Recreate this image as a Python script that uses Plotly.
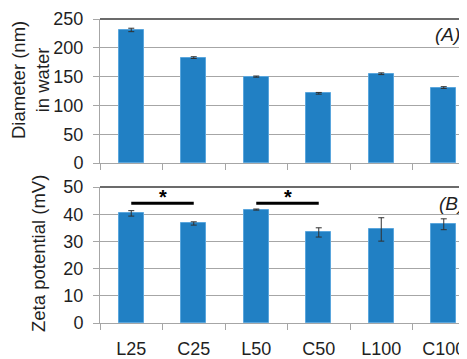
import plotly.graph_objects as go

categories = ["L25", "C25", "L50", "C50", "L100", "C100"]
diameter = [231, 183, 150, 121, 155, 131]
diameter_err = [3, 1.5, 1, 1.5, 1.5, 1.5]
zeta = [40.3, 36.6, 41.7, 33.3, 34.4, 36.3]
zeta_err = [1.0, 0.6, 0.2, 1.7, 4.3, 2.0]
y1_ticks = [0, 50, 100, 150, 200, 250]
y2_ticks = [0, 10, 20, 30, 40, 50]
sig_pairs = [("L25", "C25"), ("L50", "C50")]
sig_level = 44.0

W, H = 467, 359
OFF = 8  # page body margin offset
L = 100 - OFF
PW = W - L
BAR = "#2180c4"
EDGE = "#5aa6dd"
GRID = "#a6a6a6"
TXT = "#1f1f1f"
FONT = "Liberation Sans, Arial, sans-serif"


def px(sx):
    return (sx - OFF - L) / PW


def py(sy):
    return (H - (sy - OFF)) / H


fig = go.Figure()
fig.add_trace(go.Bar(x=categories, y=diameter, width=0.4,
                     marker=dict(color=BAR, line=dict(color=EDGE, width=1)),
                     error_y=dict(type="data", array=diameter_err, visible=True,
                                  color="#303030", thickness=1, width=3),
                     xaxis="x", yaxis="y", showlegend=False))
fig.add_trace(go.Bar(x=categories, y=zeta, width=0.4,
                     marker=dict(color=BAR, line=dict(color=EDGE, width=1)),
                     error_y=dict(type="data", array=zeta_err, visible=True,
                                  color="#303030", thickness=1, width=3),
                     xaxis="x2", yaxis="y2", showlegend=False))

xr = [-0.5, 5.5]
common_x = dict(type="category", range=xr, tickson="boundaries", ticks="outside",
                ticklen=6, tickcolor=GRID, showline=True, linecolor=GRID, linewidth=1,
                showgrid=False, automargin=False, ticklabelstandoff=9,
                tickfont=dict(size=18, color=TXT, family=FONT))
common_y = dict(ticks="outside", ticklen=6, tickcolor=GRID, showline=True,
                linecolor=GRID, linewidth=1, showgrid=True, gridcolor=GRID,
                gridwidth=1, zeroline=False, automargin=False, ticklabelstandoff=6,
                tickfont=dict(size=18, color=TXT, family=FONT))

fig.update_layout(
    template="none",
    width=W, height=H, margin=dict(l=L, r=0, t=0, b=0, pad=0),
    paper_bgcolor="white", plot_bgcolor="white", bargap=0,
    font=dict(family=FONT, color=TXT),
    xaxis=dict(**common_x, domain=[0, 1], anchor="y", showticklabels=False),
    yaxis=dict(**common_y, domain=[py(163), py(19)], range=[0, 250],
               tickvals=y1_ticks, anchor="x"),
    xaxis2=dict(**common_x, domain=[0, 1], anchor="y2"),
    yaxis2=dict(**common_y, domain=[py(323), py(187)], range=[0, 50],
                tickvals=y2_ticks, anchor="x2"),
)

# top borders
for xref, yref in [("x domain", "y domain"), ("x2 domain", "y2 domain")]:
    fig.add_shape(type="line", xref=xref, yref=yref, x0=0, x1=1, y0=1, y1=1,
                  line=dict(color="#6b6b6b", width=2))

# significance bars
for a, b in sig_pairs:
    ia, ib = categories.index(a), categories.index(b)
    fig.add_shape(type="line", xref="x2", yref="y2", x0=ia, x1=ib,
                  y0=sig_level, y1=sig_level, line=dict(color="black", width=3))
    fig.add_annotation(xref="x2", yref="y2", x=(ia + ib) / 2, y=sig_level,
                       text="<b>*</b>", showarrow=False, yanchor="bottom", yshift=-7,
                       font=dict(size=20, color="black", family=FONT))

# panel labels
fig.add_annotation(xref="paper", yref="paper", x=px(462), y=py(35), text="<i>(A)</i>",
                   showarrow=False, xanchor="right", yanchor="middle",
                   font=dict(size=19, color=TXT, family=FONT))
fig.add_annotation(xref="paper", yref="paper", x=px(466), y=py(203), text="<i>(B)</i>",
                   showarrow=False, xanchor="right", yanchor="middle",
                   font=dict(size=19, color=TXT, family=FONT))

# y titles
fig.add_annotation(xref="paper", yref="paper", x=px(31), y=py(80),
                   xanchor="center", yanchor="middle",
                   text="Diameter (nm)<br>in water", textangle=-90, showarrow=False,
                   font=dict(size=18.5, color=TXT, family=FONT))
fig.add_annotation(xref="paper", yref="paper", x=px(38), y=py(254),
                   xanchor="center", yanchor="middle",
                   text="Zeta potential (mV)", textangle=-90, showarrow=False,
                   font=dict(size=18.5, color=TXT, family=FONT))

fig.write_html("out.html")
